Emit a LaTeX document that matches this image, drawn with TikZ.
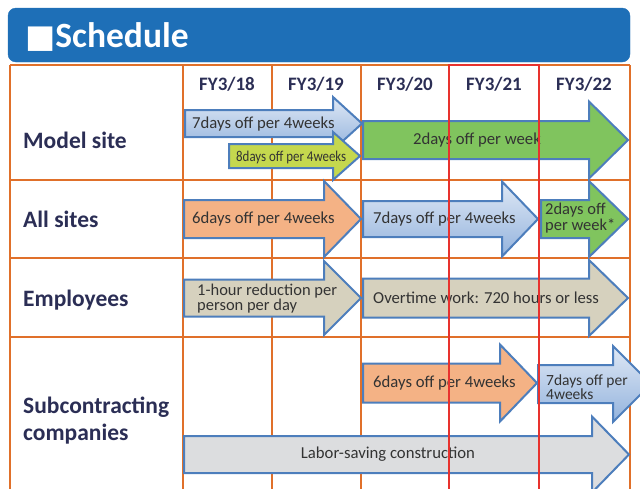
\documentclass[tikz,border=0pt]{standalone}
\usepackage{fontspec}
\setmainfont{Carlito}
\newfontfamily\symfont{DejaVu Sans}
\usepackage{tikz}

\definecolor{headblue}{HTML}{1E6FB7}
\definecolor{gridorange}{HTML}{E0702A}
\definecolor{yearred}{HTML}{E8322E}
\definecolor{edgeblue}{HTML}{4D7EBC}
\definecolor{labelnavy}{HTML}{2B2E55}
\definecolor{armgray}{HTML}{333333}
\definecolor{skytop}{HTML}{DFE8F5}
\definecolor{skybot}{HTML}{93B3DD}
\definecolor{salmon}{HTML}{F4B285}
\definecolor{lime}{HTML}{C5D84E}
\definecolor{leaf}{HTML}{80C45E}
\definecolor{khaki}{HTML}{D6D1BE}
\definecolor{ashgray}{HTML}{DCDDDF}

% block arrow: fill, left x, head x, tip x, mid y, body half, head half
\newcommand{\workarrow}[7]{%
  \draw[edgeblue, line width=2pt, #1] (#2,#5-#6) -- (#3,#5-#6) -- (#3,#5-#7)
    -- (#4,#5) -- (#3,#5+#7) -- (#3,#5+#6) -- (#2,#5+#6) -- cycle;}

\tikzset{
  armlabel/.style={text=armgray, anchor=west, inner sep=0pt, align=left,
    font=\fontsize{16.7}{15}\selectfont},
  rowlabel/.style={text=labelnavy, anchor=west, inner sep=0pt, align=left,
    font=\fontsize{23.5}{27}\selectfont\bfseries},
  yearlabel/.style={text=labelnavy, inner sep=0pt,
    font=\fontsize{19}{19}\selectfont\bfseries},
  gridline/.style={gridorange, line width=2pt},
  sky/.style={top color=skytop, bottom color=skybot},
}

\begin{document}
\begin{tikzpicture}[x=1pt, y=-1pt]
    \useasboundingbox (0,0) rectangle (640,488);
    \clip (0,0) rectangle (640,488);

    % title bar
    \draw [fill=headblue, headblue, rounded corners=8pt] (8,8) rectangle (630,62);
    \node[text=white, anchor=west, inner sep=0pt, font=\fontsize{35.5}{35}\selectfont\bfseries]
        (title) at (25,37) {{\symfont\fontsize{32}{32}\selectfont ■}Schedule};

    % table
    \foreach \y in {65,180,258,337}
        \draw [gridline] (10,\y) -- (630,\y);
    \foreach \x in {10,183,272,361,630}
        \draw [gridline] (\x,65) -- (\x,492);

    % model site
    \workarrow{sky}{185}{333}{362}{123.5}{13.5}{26.5}
    \workarrow{fill=lime}{229}{333}{360}{156}{12}{24}
    \workarrow{fill=leaf}{363}{589}{628}{140}{19}{38.5}
    \node[armlabel] (ms1) at (192,124) {7days off per 4weeks};
    \node[armlabel] (ms2) at (236,157) {\scalebox{0.86}[1]{\fontsize{15}{15}\selectfont 8days off per 4weeks}};
    \node[armlabel] (ms3) at (413,140) {2days off per week};

    % all sites
    \workarrow{fill=salmon}{184}{324}{361}{219}{19}{38}
    \workarrow{sky}{363}{502}{538}{219}{18}{37.5}
    \workarrow{fill=leaf}{541}{589}{628}{219}{19}{38}
    \node[armlabel] (as1) at (192,219) {6days off per 4weeks};
    \node[armlabel] (as2) at (373,219) {7days off per 4weeks};
    \node[armlabel, font=\fontsize{16.5}{16}\selectfont] (as3) at (545,218) {2days off\\per week*};

    % employees
    \workarrow{fill=khaki}{184}{324}{361}{298}{18.5}{37}
    \workarrow{fill=khaki}{363}{589}{628}{298}{19.5}{38}
    \node[armlabel, font=\fontsize{16.5}{15}\selectfont] (em1) at (197,299) {1-hour reduction per\\person per day};
    \node[armlabel] (em2) at (373,298) {Overtime work: 720 hours or less};

    % subcontracting companies
    \workarrow{fill=salmon}{363}{500}{537}{383}{19.5}{38.5}
    \workarrow{sky}{538}{613}{651}{384}{19}{38}
    \workarrow{fill=ashgray}{184}{592}{629}{454.5}{18.5}{38}
    \node[armlabel] (sc1) at (373,383) {6days off per 4weeks};
    \node[armlabel, font=\fontsize{15.5}{14}\selectfont] (sc2) at (546,387) {7days off per\\4weeks};
    \node[armlabel, anchor=center] (sc3) at (388,454) {Labor-saving construction};

    % current year
    \draw [yearred, line width=1.8pt] (449,492) -- (449,65) -- (539,65) -- (539,492);

    % headings
    \foreach \x/\fy in {227/18,316/19,405/20,494/21,584/22}
        \node[yearlabel] (fy\fy) at (\x,84) {FY3/\fy};
    \node[rowlabel] (model) at (23,140) {Model site};
    \node[rowlabel] (all) at (23,219) {All sites};
    \node[rowlabel] (staff) at (23,300) {Employees};
    \node[rowlabel] (subcon) at (23,421) {Subcontracting\\companies};
\end{tikzpicture}
\end{document}
